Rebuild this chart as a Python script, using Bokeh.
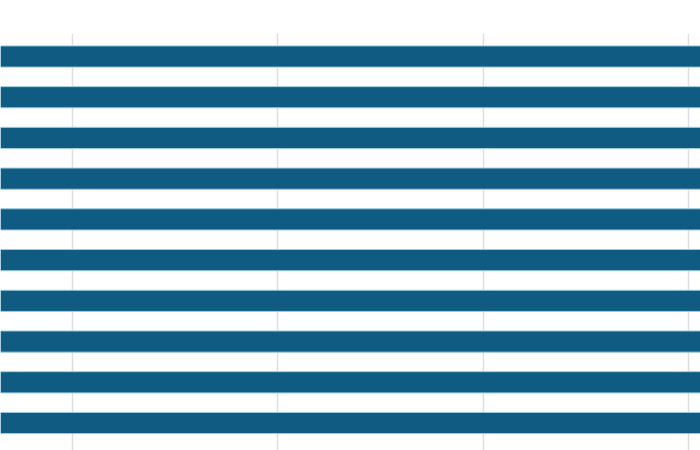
from bokeh.plotting import figure
from bokeh.models import Range1d, FixedTicker, ColumnDataSource
from bokeh.embed import file_html
from bokeh.resources import INLINE

# Data (all bars run past the visible right edge of the view)
categories = ["A", "B", "C", "D", "E", "F", "G", "H", "I", "J"]
values = [52, 50, 55, 49, 53, 51, 47, 54, 50, 48]
grid_ticks = [10, 20, 30, 40]

positions = [len(categories) - i for i in range(len(categories))]
source = ColumnDataSource(dict(cat=categories, y=positions, v=values))

p = figure(width=700, height=450, output_backend="svg", toolbar_location=None,
           x_range=Range1d(6.49, 40.59), y_range=Range1d(0.325, 10.565),
           x_axis_location=None, y_axis_location=None,
           min_border_top=33, min_border_left=0, min_border_right=0, min_border_bottom=0)
p.outline_line_color = None
p.background_fill_color = "white"
p.border_fill_color = "white"

p.xgrid.ticker = FixedTicker(ticks=grid_ticks)
p.xgrid.grid_line_color = "#dcdfe3"
p.xgrid.grid_line_width = 1.5
p.ygrid.visible = False

p.hbar(y="y", left=0, right="v", height=0.52, source=source,
       fill_color="#0f5b81", line_color="#9ccbe0", line_width=1)

open("out.html", "w").write(file_html(p, INLINE))
